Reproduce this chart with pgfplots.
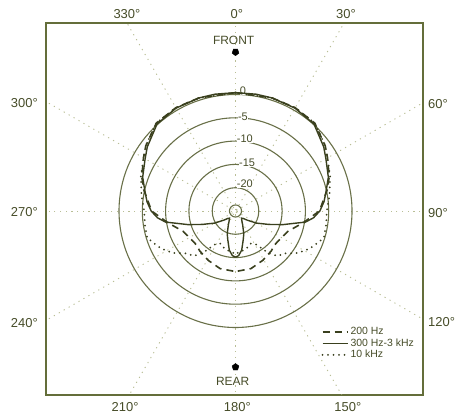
\documentclass[border=0pt]{standalone}
\usepackage{pgfplots}
\pgfplotsset{compat=1.18}
\usepackage{pgfplotstable}
\usepackage{fontspec}
\setmainfont{Liberation Sans}
\definecolor{framecol}{RGB}{100,110,58}
\definecolor{ringcol}{RGB}{105,112,72}
\definecolor{patcol}{RGB}{58,64,30}
\definecolor{radcol}{RGB}{185,190,150}
\definecolor{txtcol}{RGB}{70,76,40}

% angle (deg, clockwise from front)  level (dB)
\pgfplotstableread{
deg db
0 0.4
10 0.45
18 0.5
30 0.5
42 0.15
54 -1.6
60 -2.6
70 -3.8
77 -5.0
84 -5.9
90 -6.9
95 -8.2
99 -9.8
106 -14.4
112 -17.3
120 -19.8
128 -21.8
134 -22.7
140 -23.0
147 -22.5
153 -21.6
160 -19.8
165 -18.6
171 -16.5
176 -15.4
180 -15.1
}\midband
\pgfplotstableread{
deg db
0 0.4
18 0.5
30 0.6
42 0.4
54 -1.2
60 -2.2
70 -3.6
77 -4.8
90 -7.0
100 -10.3
111 -12.9
120 -13.6
131 -13.9
138 -13.5
151 -12.9
165 -12.2
180 -12.0
}\lowband
\pgfplotstableread{
deg db
0 0.4
18 0.5
30 0.6
42 0.4
54 -1.2
60 -2.2
70 -3.4
80 -4.5
90 -5.4
100 -5.3
107 -5.2
115 -6.8
119 -7.7
124 -8.9
131 -11.1
137 -11.8
142 -13.5
148 -16.5
155 -17.3
165 -16.5
180 -15.8
}\highband

\begin{document}
\begin{tikzpicture}
\begin{axis}[
  x=4.66bp, y=4.66bp,
  xmin=-40.67, xmax=40.24, ymin=-39.48, ymax=40.34,
  xtick=\empty, ytick=\empty,
  axis line style={framecol, line width=1.4bp},
  clip mode=individual,
  legend style={at={(axis cs:18.2,-24.3)}, anchor=north west, draw=none, fill=none,
    font=\fontsize{10.5}{11}\selectfont\color{txtcol}, row sep=-1.5bp, inner sep=1bp,
    /tikz/every even column/.append style={column sep=1bp}},
  legend cell align=left,
  legend image code/.code={\draw[#1] (0bp,0bp) -- (25bp,0bp);},
]
% radial lines
\addplot[radcol, line width=0.9bp, dash pattern=on 1.2bp off 4.5bp, data cs=polar, forget plot] coordinates {(90,80) (0,0) (270,80)};
\addplot[radcol, line width=0.9bp, dash pattern=on 1.2bp off 4.5bp, data cs=polar, forget plot] coordinates {(60,80) (0,0) (240,80)};
\addplot[radcol, line width=0.9bp, dash pattern=on 1.2bp off 4.5bp, data cs=polar, forget plot] coordinates {(30,80) (0,0) (210,80)};
\addplot[radcol, line width=0.9bp, dash pattern=on 1.2bp off 4.5bp, data cs=polar, forget plot] coordinates {(0,80) (0,0) (180,80)};
\addplot[radcol, line width=0.9bp, dash pattern=on 1.2bp off 4.5bp, data cs=polar, forget plot] coordinates {(-30,80) (0,0) (150,80)};
\addplot[radcol, line width=0.9bp, dash pattern=on 1.2bp off 4.5bp, data cs=polar, forget plot] coordinates {(-60,80) (0,0) (120,80)};
% rings
\draw[ringcol, line width=1.1bp] (axis cs:0,0) circle[radius=25];
\draw[ringcol, line width=1.1bp] (axis cs:0,0) circle[radius=20];
\draw[ringcol, line width=1.1bp] (axis cs:0,0) circle[radius=15];
\draw[ringcol, line width=1.1bp] (axis cs:0,0) circle[radius=10];
\draw[ringcol, line width=1.1bp] (axis cs:0,0) circle[radius=5];
\draw[ringcol, line width=1.1bp] (axis cs:0,0) circle[radius=1.3];
% ring labels
\node[txtcol, font=\fontsize{11}{12}\selectfont, fill=white, inner sep=0.3bp] at (axis cs:1.6,25.75) {0};
\node[txtcol, font=\fontsize{11}{12}\selectfont, fill=white, inner sep=0.3bp] at (axis cs:1.6,20.3) {-5};
\node[txtcol, font=\fontsize{11}{12}\selectfont, fill=white, inner sep=0.3bp] at (axis cs:2.0,15.45) {-10};
\node[txtcol, font=\fontsize{11}{12}\selectfont, fill=white, inner sep=0.3bp] at (axis cs:2.5,10.4) {-15};
\node[txtcol, font=\fontsize{11}{12}\selectfont, fill=white, inner sep=0.3bp] at (axis cs:2.0,5.9) {-20};
% patterns
\addplot[patcol, line width=1.6bp, dash pattern=on 7bp off 5bp, data cs=polar] table[x expr=90-\thisrow{deg}, y expr=\thisrow{db}+25] {\lowband};
\addlegendentry{200 Hz}
\addplot[patcol, line width=1.4bp, data cs=polar] table[x expr=90-\thisrow{deg}, y expr=\thisrow{db}+25] {\midband};
\addlegendentry{300 Hz-3 kHz}
\addplot[patcol, line width=2bp, line cap=round, dash pattern=on 0bp off 5.5bp, data cs=polar] table[x expr=90-\thisrow{deg}, y expr=\thisrow{db}+25] {\highband};
\addlegendentry{10 kHz}
\addplot[patcol, line width=1.6bp, dash pattern=on 7bp off 5bp, data cs=polar, forget plot] table[x expr=90+\thisrow{deg}, y expr=\thisrow{db}+25] {\lowband};
\addplot[patcol, line width=1.4bp, data cs=polar, forget plot] table[x expr=90+\thisrow{deg}, y expr=\thisrow{db}+25] {\midband};
\addplot[patcol, line width=2bp, line cap=round, dash pattern=on 0bp off 5.5bp, data cs=polar, forget plot] table[x expr=90+\thisrow{deg}, y expr=\thisrow{db}+25] {\highband};
% front / rear markers
\addplot[only marks, mark=pentagon*, mark size=3.6bp, black, mark options={rotate=180}, forget plot] coordinates {(0,34.1)};
\addplot[only marks, mark=pentagon*, mark size=3.6bp, black, forget plot] coordinates {(0,-33.5)};
\node[txtcol, font=\fontsize{12}{13}\selectfont] at (axis cs:-0.4,36.6) {FRONT};
\node[txtcol, font=\fontsize{12}{13}\selectfont] at (axis cs:-0.6,-36.6) {REAR};
% angle labels
\node[txtcol, font=\fontsize{13}{14}\selectfont] at (axis cs:-23.3,42.2) {330°};
\node[txtcol, font=\fontsize{13}{14}\selectfont] at (axis cs:0.3,42.2) {0°};
\node[txtcol, font=\fontsize{13}{14}\selectfont] at (axis cs:23.7,42.2) {30°};
\node[txtcol, font=\fontsize{13}{14}\selectfont, anchor=east, inner sep=0pt] at (axis cs:-42.4,23.2) {300°};
\node[txtcol, font=\fontsize{13}{14}\selectfont, anchor=east, inner sep=0pt] at (axis cs:-42.4,-0.15) {270°};
\node[txtcol, font=\fontsize{13}{14}\selectfont, anchor=east, inner sep=0pt] at (axis cs:-42.4,-24.0) {240°};
\node[txtcol, font=\fontsize{13}{14}\selectfont, anchor=west, inner sep=0pt] at (axis cs:41.3,23.0) {60°};
\node[txtcol, font=\fontsize{13}{14}\selectfont, anchor=west, inner sep=0pt] at (axis cs:41.3,-0.4) {90°};
\node[txtcol, font=\fontsize{13}{14}\selectfont, anchor=west, inner sep=0pt] at (axis cs:41.3,-23.8) {120°};
\node[txtcol, font=\fontsize{13}{14}\selectfont] at (axis cs:-23.7,-42.1) {210°};
\node[txtcol, font=\fontsize{13}{14}\selectfont] at (axis cs:0.4,-42.1) {180°};
\node[txtcol, font=\fontsize{13}{14}\selectfont] at (axis cs:24.1,-42.1) {150°};
\coordinate (bbl) at (axis cs:-50.54,-43.35);
\coordinate (btr) at (axis cs:50.75,45.28);
\end{axis}
\path (bbl) rectangle (btr);
\end{tikzpicture}
\end{document}
